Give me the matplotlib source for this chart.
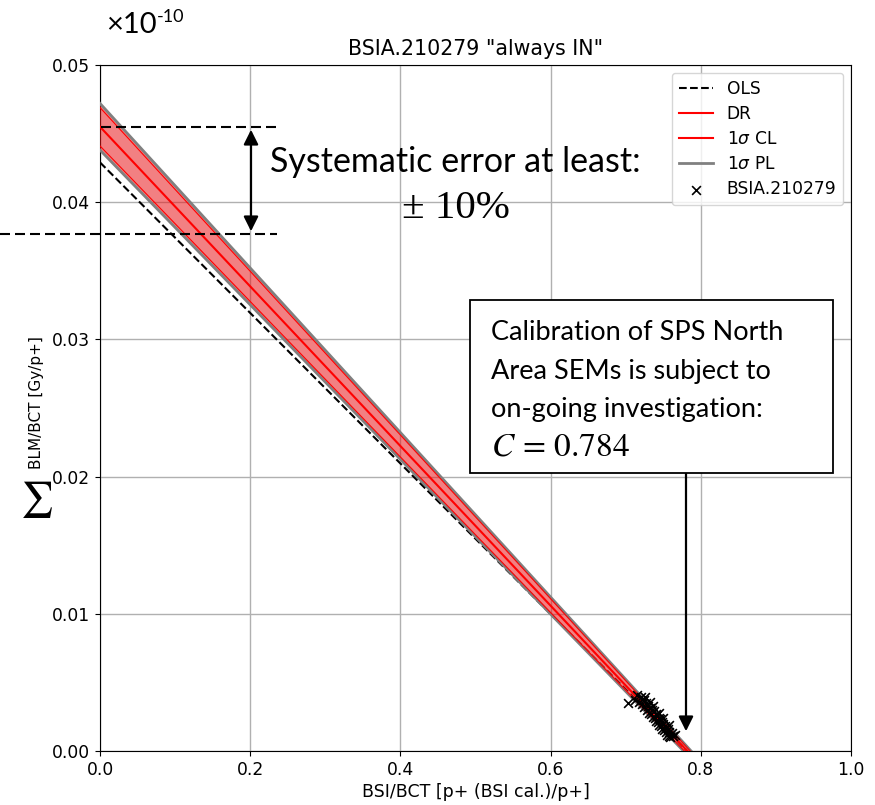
import numpy as np
import matplotlib
matplotlib.use("Agg")
import matplotlib.pyplot as plt
from matplotlib.patches import FancyArrowPatch, Rectangle

# ------------ data ------------
bsi_x = [0.703, 0.712, 0.715, 0.718, 0.720, 0.722, 0.724, 0.725, 0.726, 0.727,
         0.728, 0.730, 0.731, 0.732, 0.733, 0.734, 0.735, 0.736, 0.737, 0.738,
         0.739, 0.740, 0.741, 0.742, 0.743, 0.744, 0.744, 0.745, 0.746, 0.747,
         0.748, 0.749, 0.750, 0.750, 0.751, 0.752, 0.753, 0.754, 0.755, 0.756,
         0.757, 0.757, 0.758, 0.759, 0.761, 0.763, 0.765]
blm_y = [0.0035, 0.0037, 0.0041, 0.0036, 0.0039, 0.0034, 0.0037, 0.0032, 0.0039, 0.0035,
         0.0030, 0.0033, 0.0028, 0.0036, 0.0031, 0.0027, 0.0030, 0.0033, 0.0025, 0.0029,
         0.0024, 0.0027, 0.0022, 0.0026, 0.0021, 0.0024, 0.0028, 0.0019, 0.0023, 0.0018,
         0.0021, 0.0016, 0.0020, 0.0024, 0.0015, 0.0018, 0.0014, 0.0017, 0.0012, 0.0016,
         0.0011, 0.0019, 0.0014, 0.0010, 0.0013, 0.0011, 0.0012]

# fit lines: (intercept, slope)
ols_fit = (0.0429, -0.05486)
dr_fit = (0.0455, -0.05818)
cl_upper = (0.0469, -0.05967)
cl_lower = (0.0441, -0.05668)
pl_upper = (0.0472, -0.05997)
pl_lower = (0.0438, -0.05637)

xs = np.linspace(0, 1, 200)


def line(fit):
    return fit[0] + fit[1] * xs


def fx(px):
    return px / 875


def fy(py):
    return 1 - py / 805


# ------------ figure ------------
fig = plt.figure(figsize=(8.75, 8.05), dpi=100)
ax = fig.add_axes([fx(100), 54 / 805, 751 / 875, 686 / 805])

ax.plot(xs, line(ols_fit), "k--", lw=1.5, zorder=2)
ax.fill_between(xs, line(pl_lower), line(pl_upper), color="#e8191b", alpha=0.55, lw=0, zorder=3)
ax.plot(xs, line(pl_upper), color="gray", lw=2, zorder=3)
ax.plot(xs, line(pl_lower), color="gray", lw=2, zorder=3)
ax.plot(xs, line(cl_upper), color="red", lw=0.8, zorder=3)
ax.plot(xs, line(cl_lower), color="red", lw=0.8, zorder=3)
ax.plot(xs, line(dr_fit), color="red", lw=1.5, zorder=4)
sc = ax.scatter(bsi_x, blm_y, marker="x", color="k", s=40, lw=1.2, zorder=5)

ax.set_xlim(0, 1)
ax.set_ylim(0, 0.05)
ax.set_xticks([0, 0.2, 0.4, 0.6, 0.8, 1.0])
ax.set_yticks([0, 0.01, 0.02, 0.03, 0.04, 0.05])
ax.set_yticklabels(["0.00", "0.01", "0.02", "0.03", "0.04", "0.05"])
ax.tick_params(labelsize=12.3)
ax.grid(True, color="#b0b0b0", lw=1)
ax.set_axisbelow(True)
ax.set_title('BSIA.210279 "always IN"', fontsize=14.8, pad=7)
ax.set_xlabel("BSI/BCT [p+ (BSI cal.)/p+]", fontsize=12.5, labelpad=3)

leg_lines = [plt.Line2D([], [], color="k", ls="--", lw=1.5),
             plt.Line2D([], [], color="red", lw=1.5),
             plt.Line2D([], [], color="red", lw=1.5),
             plt.Line2D([], [], color="gray", lw=2)]
ax.legend(leg_lines + [sc],
          ["OLS", "DR", r"1$\sigma$ CL", r"1$\sigma$ PL", "BSIA.210279"],
          loc="upper right", fontsize=12.3, borderaxespad=0.45, labelspacing=0.42)

# y label with sum sign
fig.text(fx(37), fy(403), "BLM/BCT [Gy/p+]", rotation=90,
         ha="center", va="center", fontsize=11)
fig.text(fx(36), fy(500), r"$\sum$", ha="center", va="center",
         fontsize=26, math_fontfamily="stix")

# scale factor
fig.text(fx(106), fy(33), "×10", fontsize=21, family="Lato")
fig.text(fx(157), fy(22), "-10", fontsize=13, family="Lato")

# systematic error annotation (figure coordinates)
fig.add_artist(plt.Line2D([fx(101), fx(281)], [fy(127), fy(127)],
                          color="k", lw=1.5, ls=(0, (4.8, 2.4))))
fig.add_artist(plt.Line2D([0, fx(277)], [fy(234), fy(234)],
                          color="k", lw=1.5, ls=(0, (4.8, 2.4))))
fig.add_artist(FancyArrowPatch(
    (fx(251), fy(127)), (fx(251), fy(234)),
    transform=fig.transFigure, arrowstyle="<|-|>", mutation_scale=22,
    color="k", lw=1.6))
fig.text(fx(270), fy(162), "Systematic error at least:", fontsize=24.5,
         family="Lato", va="center")
fig.text(fx(402), fy(208), "± 10%", fontsize=29.5,
         family="Liberation Serif", va="center")

# calibration note
fig.add_artist(Rectangle((fx(470), fy(473)), fx(833) - fx(470), fy(300) - fy(473),
                         transform=fig.transFigure, fc="white", ec="k", lw=1.3, zorder=6))
note_lines = ["Calibration of SPS North", "Area SEMs is subject to", "on-going investigation:"]
for i, txt in enumerate(note_lines):
    fig.text(fx(491), fy(340 + 38.5 * i), txt, fontsize=19.5, family="Lato",
             va="baseline", zorder=7)
fig.text(fx(491), fy(455), r"$C\,=\,0.784$", fontsize=24, va="baseline",
         math_fontfamily="stix", zorder=7)
fig.add_artist(FancyArrowPatch(
    (fx(686), fy(447)), (fx(686), fy(734)),
    transform=fig.transFigure, arrowstyle="-|>", mutation_scale=22,
    color="k", lw=1.6, zorder=5))

fig.savefig("out.png", dpi=100)
